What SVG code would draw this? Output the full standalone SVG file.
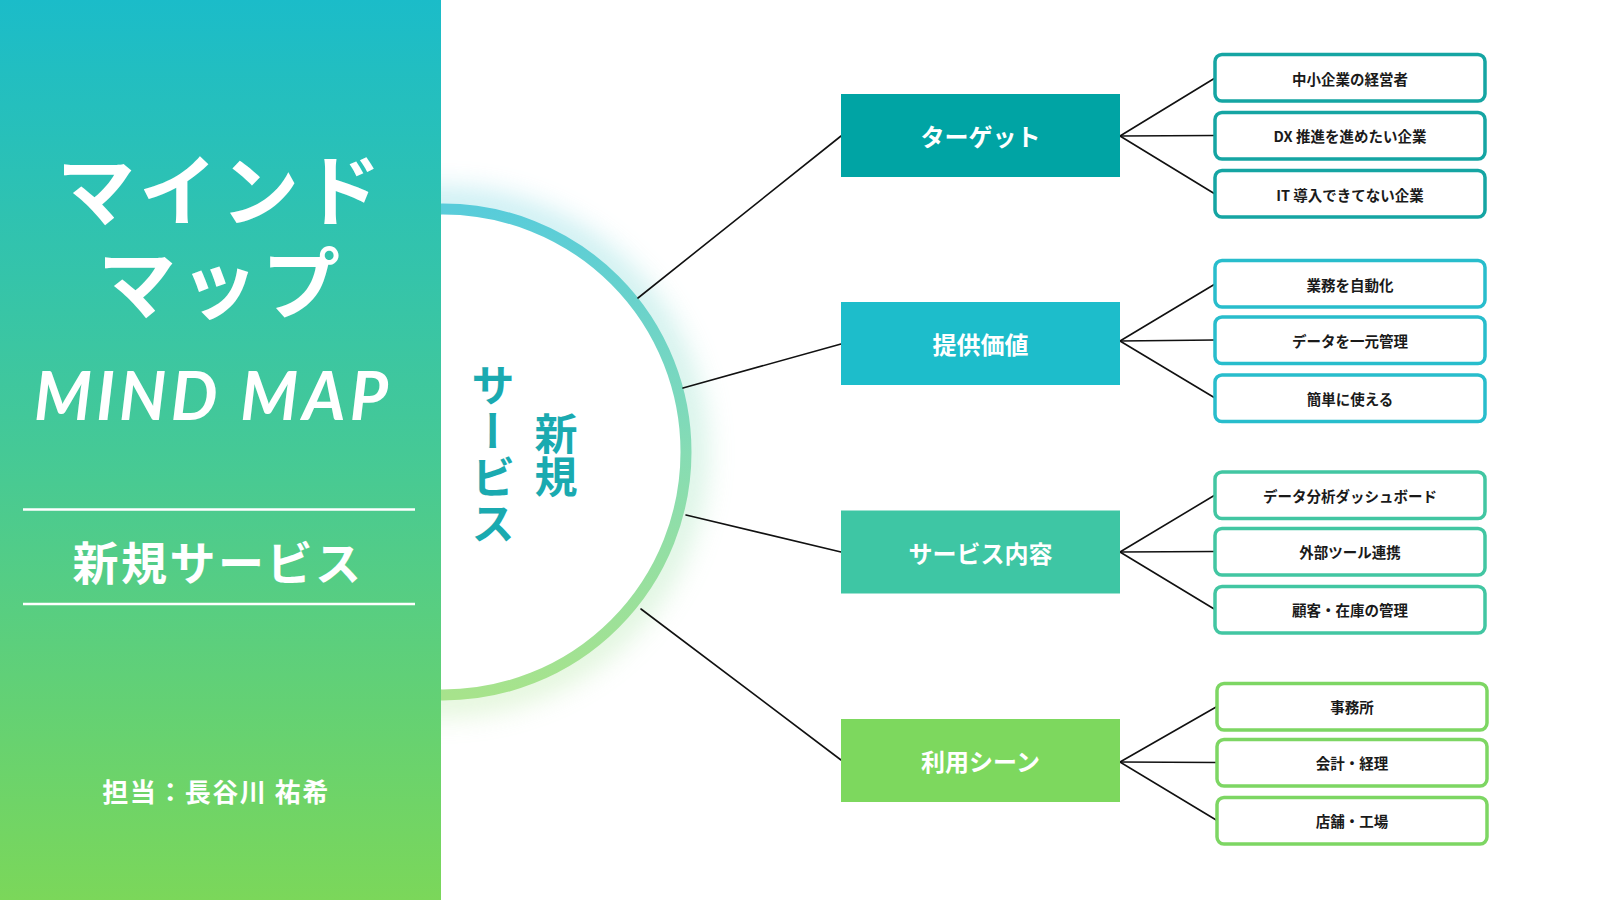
<svg xmlns="http://www.w3.org/2000/svg" width="1600" height="900" viewBox="0 0 1600 900">
  <defs>
    <linearGradient id="panelGrad" x1="0" y1="0" x2="0" y2="1">
      <stop offset="0" stop-color="#1BBCC9"/>
      <stop offset="0.5" stop-color="#45C996"/>
      <stop offset="1" stop-color="#7BD75A"/>
    </linearGradient>
    <linearGradient id="ringGrad" x1="0" y1="0" x2="0" y2="1">
      <stop offset="0" stop-color="#58CCDA"/>
      <stop offset="0.5" stop-color="#86DCB4"/>
      <stop offset="1" stop-color="#A7E38C"/>
    </linearGradient>
    <filter id="glow" x="-30%" y="-30%" width="160%" height="160%">
      <feGaussianBlur stdDeviation="14"/>
    </filter>
    <style>
      .jp { font-family: "Noto Sans CJK JP", "Noto Sans", sans-serif; font-weight: 700; }
      .title { fill: #FFFFFF; text-anchor: middle; dominant-baseline: central; }
      .conn { stroke: #111111; stroke-width: 1.6; fill: none; stroke-linecap: round; }
      .cat rect { stroke: none; }
      .cat text { fill: #FFFFFF; font-size: 24px; text-anchor: middle; dominant-baseline: central; }
      .leaf rect { fill: #FFFFFF; stroke-width: 3.5; }
      .leaf text { fill: #1A1A1A; font-size: 14.5px; text-anchor: middle; dominant-baseline: central; }
    </style>
  </defs>

  <rect x="0" y="0" width="1600" height="900" fill="#FFFFFF"/>

  <!-- central circle -->
  <g id="center">
    <circle cx="443" cy="452" r="248" fill="none" stroke="url(#ringGrad)" stroke-width="30" opacity="0.35" filter="url(#glow)"/>
    <circle cx="443" cy="452" r="243" fill="#FFFFFF" stroke="url(#ringGrad)" stroke-width="11"/>
    <text class="jp" x="556" y="455" font-size="43" fill="#1AAAB0" text-anchor="middle" style="writing-mode: vertical-rl;">新規</text>
    <text class="jp" x="493" y="455" font-size="44" fill="#1AAAB0" text-anchor="middle" letter-spacing="2" style="writing-mode: vertical-rl;">サービス</text>
  </g>

  <!-- left panel -->
  <g id="panel">
    <rect x="0" y="0" width="441" height="900" fill="url(#panelGrad)"/>
    <text class="jp title" font-size="78" letter-spacing="4"><tspan x="221" y="186">マインド</tspan><tspan x="221" y="279">マップ</tspan></text>
    <text x="211" y="420" font-family="Lato, 'Open Sans', sans-serif" font-weight="700" font-style="italic" font-size="66" fill="#FFFFFF" text-anchor="middle" textLength="354" lengthAdjust="spacing">MIND MAP</text>
    <line x1="23" y1="509.5" x2="415" y2="509.5" stroke="#FFFFFF" stroke-width="2.5"/>
    <line x1="23" y1="604" x2="415" y2="604" stroke="#FFFFFF" stroke-width="2.5"/>
    <text class="jp title" x="218" y="560" font-size="46" letter-spacing="2.5">新規サービス</text>
    <text class="jp title" x="216" y="790" font-size="26" letter-spacing="1.5">担当：長谷川 祐希</text>
  </g>

  <!-- connectors -->
  <g id="connectors">
    <line class="conn" x1="638" y1="298" x2="841" y2="136"/>
    <line class="conn" x1="683" y1="388" x2="841" y2="344"/>
    <line class="conn" x1="686" y1="515" x2="841" y2="552"/>
    <line class="conn" x1="641" y1="609" x2="841" y2="760"/>

    <line class="conn" x1="1120" y1="136" x2="1215" y2="78"/>
    <line class="conn" x1="1120" y1="136" x2="1215" y2="135.5"/>
    <line class="conn" x1="1120" y1="136" x2="1215" y2="194"/>

    <line class="conn" x1="1120" y1="341" x2="1215" y2="284"/>
    <line class="conn" x1="1120" y1="341" x2="1215" y2="340"/>
    <line class="conn" x1="1120" y1="341" x2="1215" y2="398"/>

    <line class="conn" x1="1120" y1="552" x2="1215" y2="495"/>
    <line class="conn" x1="1120" y1="552" x2="1215" y2="551.5"/>
    <line class="conn" x1="1120" y1="552" x2="1215" y2="609.5"/>

    <line class="conn" x1="1120" y1="762" x2="1217" y2="706.5"/>
    <line class="conn" x1="1120" y1="762" x2="1217" y2="762.5"/>
    <line class="conn" x1="1120" y1="762" x2="1217" y2="820.5"/>
  </g>

  <!-- categories -->
  <g id="cat-target" class="cat jp">
    <rect x="841" y="94" width="279" height="83" fill="#00A4A4"/>
    <text x="980.5" y="135.5">ターゲット</text>
  </g>
  <g id="cat-value" class="cat jp">
    <rect x="841" y="302" width="279" height="83" fill="#1DBDCB"/>
    <text x="980.5" y="343.5">提供価値</text>
  </g>
  <g id="cat-service" class="cat jp">
    <rect x="841" y="510.5" width="279" height="83" fill="#3EC6A4"/>
    <text x="980.5" y="552">サービス内容</text>
  </g>
  <g id="cat-scene" class="cat jp">
    <rect x="841" y="719" width="279" height="83" fill="#7DD85E"/>
    <text x="980.5" y="760.5">利用シーン</text>
  </g>

  <!-- leaves: target -->
  <g id="leaf-1-1" class="leaf jp">
    <rect x="1215" y="54.5" width="270" height="46.5" rx="7" stroke="#15A5A3"/>
    <text x="1350" y="78">中小企業の経営者</text>
  </g>
  <g id="leaf-1-2" class="leaf jp">
    <rect x="1215" y="112.5" width="270" height="46.5" rx="7" stroke="#15A5A3"/>
    <text x="1350" y="135.5">DX 推進を進めたい企業</text>
  </g>
  <g id="leaf-1-3" class="leaf jp">
    <rect x="1215" y="170.5" width="270" height="46.5" rx="7" stroke="#15A5A3"/>
    <text x="1350" y="194">IT 導入できてない企業</text>
  </g>

  <!-- leaves: value -->
  <g id="leaf-2-1" class="leaf jp">
    <rect x="1215" y="260.5" width="270" height="46.5" rx="7" stroke="#28BDCC"/>
    <text x="1350" y="284">業務を自動化</text>
  </g>
  <g id="leaf-2-2" class="leaf jp">
    <rect x="1215" y="317" width="270" height="46.5" rx="7" stroke="#28BDCC"/>
    <text x="1350" y="340">データを一元管理</text>
  </g>
  <g id="leaf-2-3" class="leaf jp">
    <rect x="1215" y="375" width="270" height="46.5" rx="7" stroke="#28BDCC"/>
    <text x="1350" y="398">簡単に使える</text>
  </g>

  <!-- leaves: service -->
  <g id="leaf-3-1" class="leaf jp">
    <rect x="1215" y="472" width="270" height="46.5" rx="7" stroke="#42C6A2"/>
    <text x="1350" y="495">データ分析ダッシュボード</text>
  </g>
  <g id="leaf-3-2" class="leaf jp">
    <rect x="1215" y="528.5" width="270" height="46.5" rx="7" stroke="#42C6A2"/>
    <text x="1350" y="551.5">外部ツール連携</text>
  </g>
  <g id="leaf-3-3" class="leaf jp">
    <rect x="1215" y="586.5" width="270" height="46.5" rx="7" stroke="#42C6A2"/>
    <text x="1350" y="609.5">顧客・在庫の管理</text>
  </g>

  <!-- leaves: scene -->
  <g id="leaf-4-1" class="leaf jp">
    <rect x="1217" y="683.5" width="270" height="46.5" rx="7" stroke="#7DD663"/>
    <text x="1352" y="706.5">事務所</text>
  </g>
  <g id="leaf-4-2" class="leaf jp">
    <rect x="1217" y="739.5" width="270" height="46.5" rx="7" stroke="#7DD663"/>
    <text x="1352" y="762.5">会計・経理</text>
  </g>
  <g id="leaf-4-3" class="leaf jp">
    <rect x="1217" y="797.5" width="270" height="46.5" rx="7" stroke="#7DD663"/>
    <text x="1352" y="820.5">店舗・工場</text>
  </g>
</svg>
